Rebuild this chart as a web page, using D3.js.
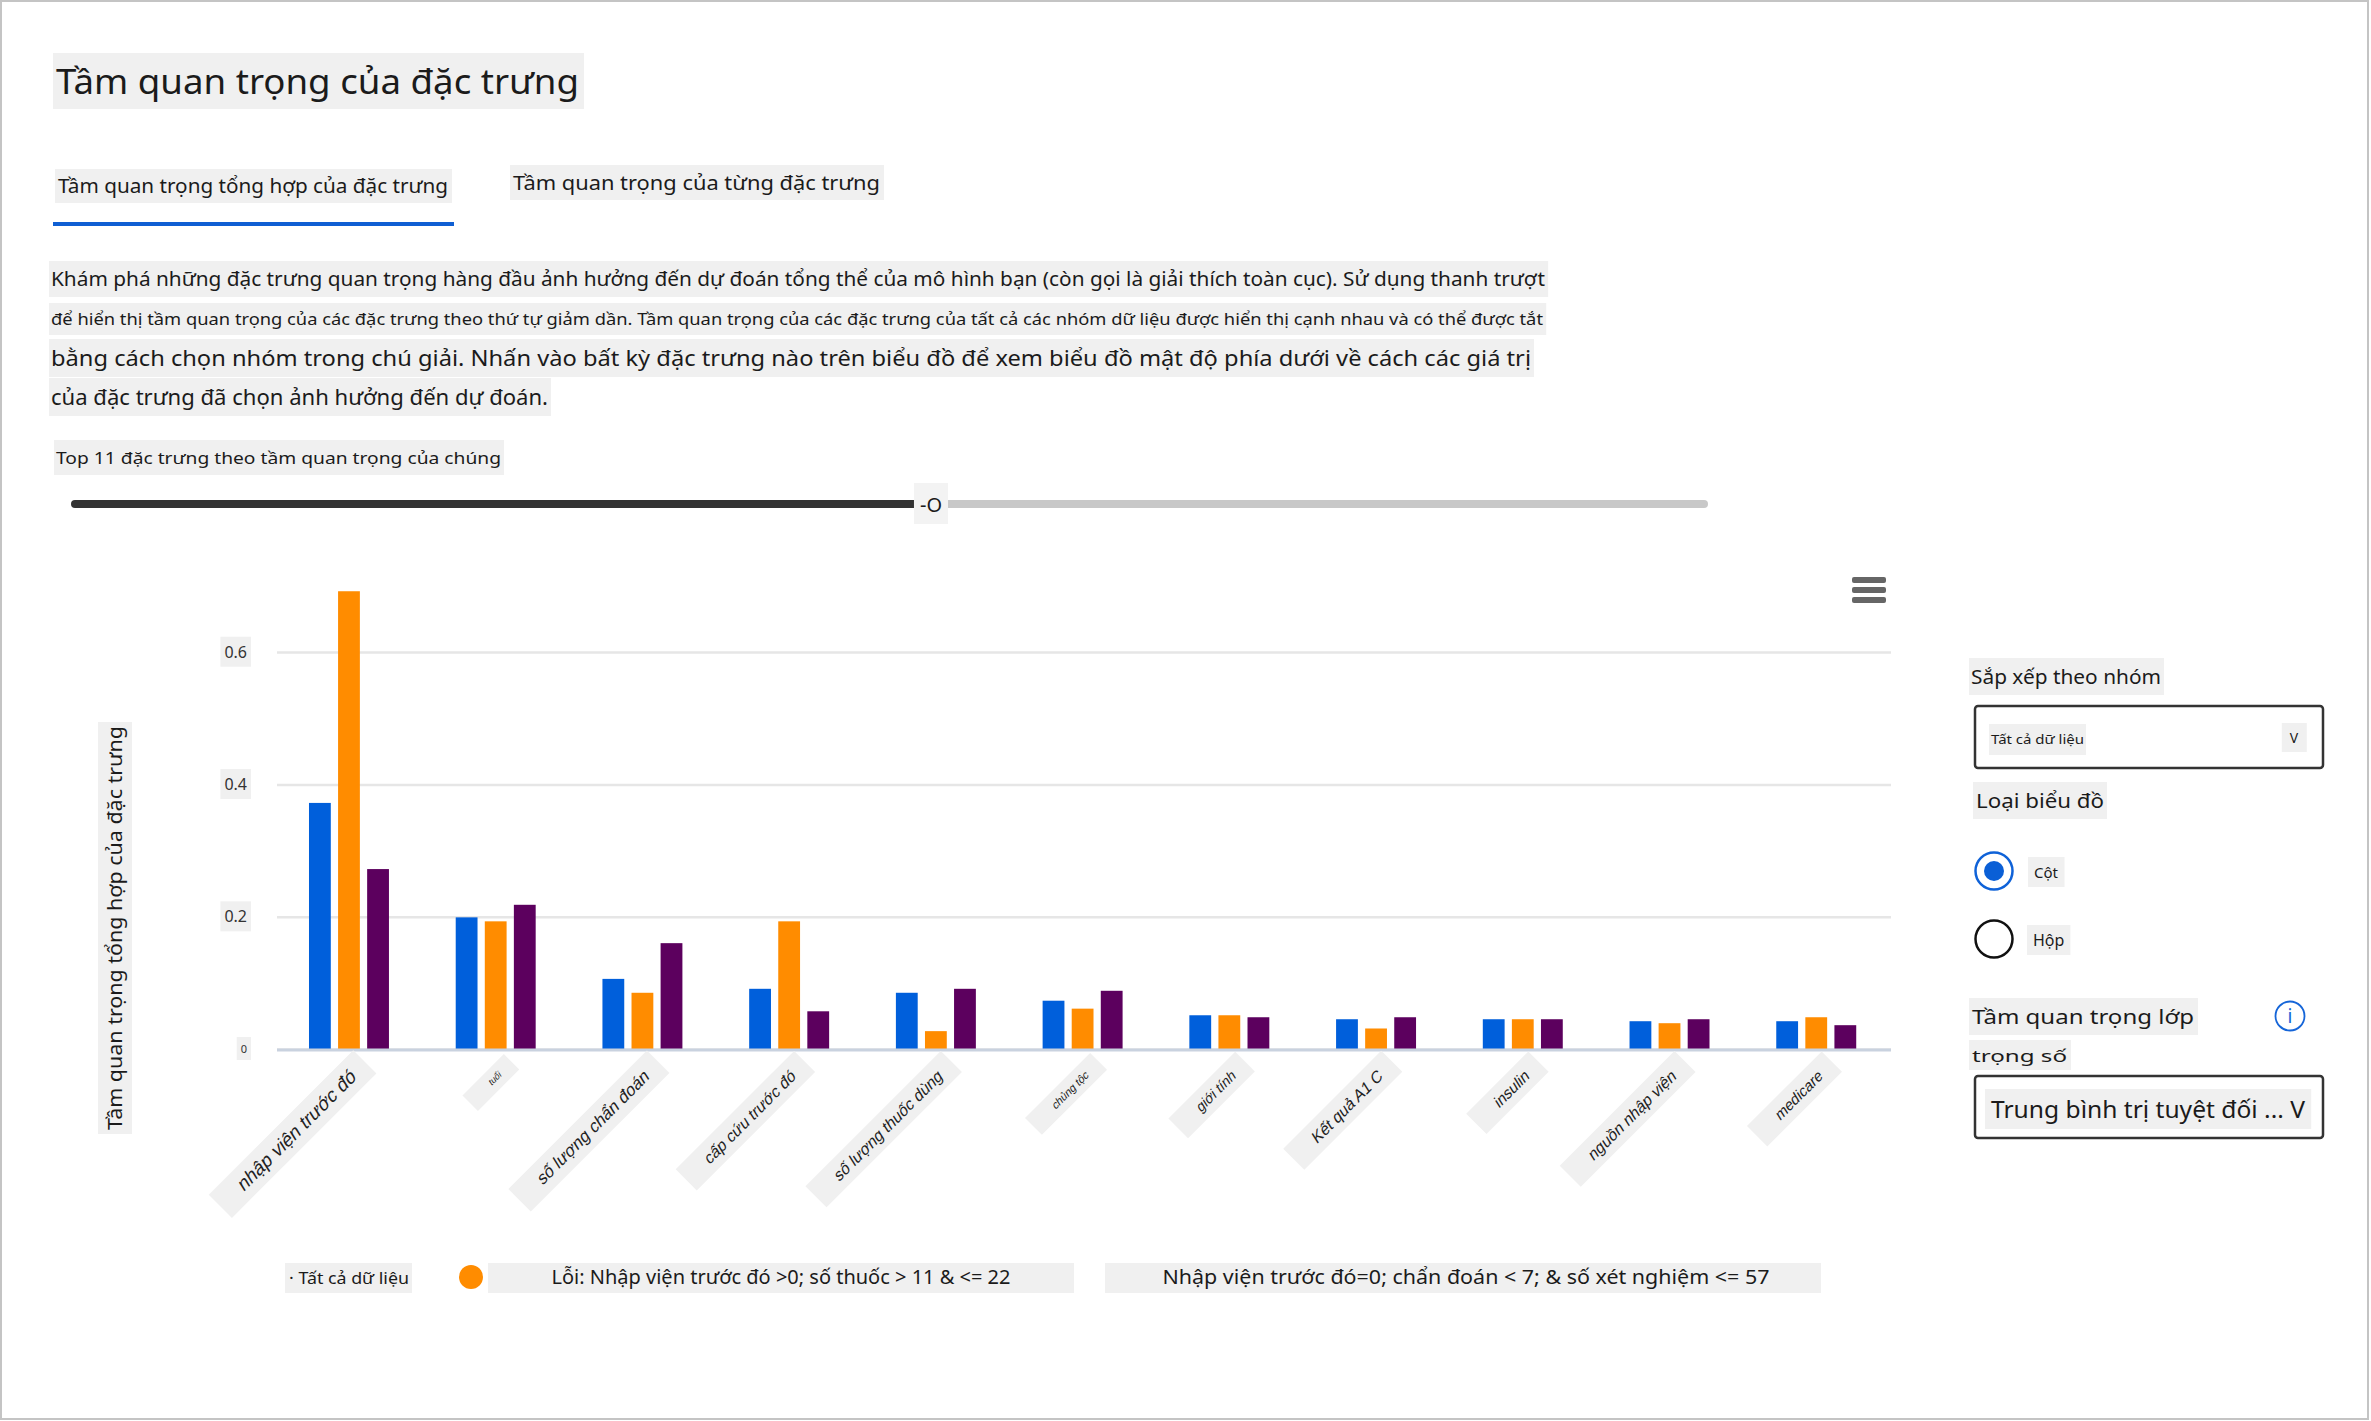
<!DOCTYPE html>
<html>
<head>
<meta charset="utf-8">
<script src="https://cdn.jsdelivr.net/npm/d3@7"></script>
<style>
  html, body { margin: 0; padding: 0; background: #fff; }
  svg { display: block; font-family: "Noto Sans", "Open Sans", sans-serif; }
</style>
</head>
<body>
<svg id="page" width="2371" height="1421"></svg>
<script>
// dữ liệu biểu đồ
var features = ["nhập viện trước đó", "tuổi", "số lượng chẩn đoán", "cấp cứu trước đó",
  "số lượng thuốc dùng", "chủng tộc", "giới tính", "Kết quả A1 C", "insulin",
  "nguồn nhập viện", "medicare"];
var cohorts = ["Tất cả dữ liệu", "Lỗi: Nhập viện trước đó >0; số thuốc > 11 & <= 22",
  "Nhập viện trước đó=0; chẩn đoán < 7; & số xét nghiệm <= 57"];
var allData   = [0.372, 0.199, 0.106, 0.091, 0.085, 0.073, 0.051, 0.045, 0.045, 0.042, 0.042];
var errorData = [0.692, 0.193, 0.085, 0.193, 0.027, 0.061, 0.051, 0.031, 0.045, 0.039, 0.048];
var otherData = [0.272, 0.218, 0.160, 0.057, 0.091, 0.088, 0.048, 0.048, 0.045, 0.045, 0.036];
var yTicks = [0, 0.2, 0.4, 0.6];

var colors = ["#005fdb", "#ff8c00", "#5c005e"];
var BOX = "#f0f0f0";
var INK = "#1b1b1b";

// cỡ chữ nhãn trục x (ảnh chụp có cỡ chữ khác nhau)
var xLabelSize = [19, 9, 17, 16, 16, 11, 14, 16, 15.5, 16, 15];

var svg = d3.select("#page");

// khung ngoài
svg.append("rect")
  .attr("x", 1).attr("y", 1).attr("width", 2367).attr("height", 1418)
  .attr("fill", "none").attr("stroke", "#c4c4c4").attr("stroke-width", 2);

// chữ có nền xám
function boxText(parent, o) {
  var g = parent.append("g")
    .attr("transform", "translate(" + o.x + "," + o.y + ")" + (o.rotate ? " rotate(" + o.rotate + ")" : ""));
  var rect = g.append("rect").attr("fill", o.box || BOX);
  var t = g.append("text")
    .attr("font-size", o.size)
    .attr("fill", o.color || INK)
    .attr("transform", o.italic ? "skewX(-13)" : null)
    .attr("text-anchor", o.anchor || "start")
    .attr("dy", o.dy || null)
    .text(o.text);
  if (o.width) t.attr("textLength", o.width).attr("lengthAdjust", "spacingAndGlyphs");
  var b = t.node().getBBox();
  var p = o.pad || [4, 4, 4, 4];
  rect.attr("x", b.x - p[0]).attr("y", b.y - p[1])
    .attr("width", b.width + p[0] + p[2]).attr("height", b.height + p[1] + p[3]);
  return g;
}

// tiêu đề + tab
boxText(svg, {text: "Tầm quan trọng của đặc trưng", x: 56, y: 94, size: 34, width: 523, pad: [3, 5, 5, 5]});
boxText(svg, {text: "Tầm quan trọng tổng hợp của đặc trưng", x: 58, y: 193, size: 19, width: 390, pad: [3, 4, 4, 4]});
boxText(svg, {text: "Tầm quan trọng của từng đặc trưng", x: 513, y: 190, size: 20, width: 367, pad: [3, 4, 4, 4]});
svg.append("rect").attr("x", 53).attr("y", 222).attr("width", 401).attr("height", 4).attr("fill", "#0f5fd3");

// đoạn mô tả
var para = [
  {text: "Khám phá những đặc trưng quan trọng hàng đầu ảnh hưởng đến dự đoán tổng thể của mô hình bạn (còn gọi là giải thích toàn cục). Sử dụng thanh trượt", y: 286, size: 19, width: 1494},
  {text: "để hiển thị tầm quan trọng của các đặc trưng theo thứ tự giảm dần. Tầm quan trọng của các đặc trưng của tất cả các nhóm dữ liệu được hiển thị cạnh nhau và có thể được tắt", y: 325, size: 16, width: 1492},
  {text: "bằng cách chọn nhóm trong chú giải. Nhấn vào bất kỳ đặc trưng nào trên biểu đồ để xem biểu đồ mật độ phía dưới về cách các giá trị", y: 366, size: 21, width: 1480},
  {text: "của đặc trưng đã chọn ảnh hưởng đến dự đoán.", y: 405, size: 21, width: 497}
];
para.forEach(function(l) {
  boxText(svg, {text: l.text, x: 51, y: l.y, size: l.size, width: l.width, pad: [2, 5, 3, 5]});
});
boxText(svg, {text: "Top 11 đặc trưng theo tầm quan trọng của chúng", x: 56, y: 464, size: 17, width: 445, pad: [2, 6, 3, 6]});

// thanh trượt
svg.append("rect").attr("x", 900).attr("y", 500).attr("width", 808).attr("height", 8).attr("rx", 4).attr("fill", "#c8c8c8");
svg.append("rect").attr("x", 71).attr("y", 500).attr("width", 847).attr("height", 8).attr("rx", 4).attr("fill", "#333");
boxText(svg, {text: "-O", x: 931, y: 512, size: 20, anchor: "middle", pad: [6, 8, 6, 6], box: "#f3f3f3"});

// biểu đồ cột
var margin = {left: 277, right: 1891, top: 560, bottom: 1049};
var x0 = d3.scaleBand().domain(features).range([margin.left, margin.right]);
var x1 = d3.scaleBand().domain(d3.range(3))
  .range([x0.bandwidth() * 0.218, x0.bandwidth() * 0.763]).paddingInner(0.25);
var y = d3.scaleLinear().domain([0, 0.6]).range([margin.bottom, margin.bottom - 0.6 * 661.5]);

var series = [allData, errorData, otherData];
var rows = features.map(function(f, i) {
  return {feature: f, values: series.map(function(s, k) { return {k: k, v: s[i]}; })};
});

var yAxis = svg.append("g")
  .attr("transform", "translate(" + margin.left + ",0)")
  .call(d3.axisLeft(y).tickValues(yTicks).tickSize(-(margin.right - margin.left)).tickPadding(30).tickFormat(d3.format("")));
yAxis.select(".domain").remove();
yAxis.selectAll(".tick line").attr("stroke", "#e6e6e6").attr("stroke-width", 2.5);
yAxis.selectAll(".tick text").each(function(d) {
  var t = d3.select(this);
  t.attr("font-size", d === 0 ? 11 : 16).attr("fill", "#333").attr("font-family", "Noto Sans");
  var b = this.getBBox();
  d3.select(this.parentNode).insert("rect", "text")
    .attr("x", b.x - 4).attr("y", b.y - 4).attr("width", b.width + 8).attr("height", b.height + 8)
    .attr("fill", BOX);
});

svg.append("g").selectAll("g")
  .data(rows)
  .join("g")
  .attr("transform", function(d) { return "translate(" + x0(d.feature) + ",0)"; })
  .selectAll("rect")
  .data(function(d) { return d.values; })
  .join("rect")
  .attr("x", function(d) { return x1(d.k); })
  .attr("width", x1.bandwidth())
  .attr("y", function(d) { return y(d.v); })
  .attr("height", function(d) { return y(0) - y(d.v); })
  .attr("fill", function(d) { return colors[d.k]; });

// đường đáy
svg.append("line")
  .attr("x1", margin.left).attr("x2", margin.right)
  .attr("y1", y(0) + 1).attr("y2", y(0) + 1)
  .attr("stroke", "#c9d2df").attr("stroke-width", 3);

// nhãn trục x
var xAxis = svg.append("g")
  .attr("transform", "translate(0," + (y(0) + 24) + ")")
  .call(d3.axisBottom(x0).tickSize(0).tickPadding(0));
xAxis.select(".domain").remove();
xAxis.selectAll(".tick text").remove();
xAxis.selectAll(".tick").each(function(d, i) {
  boxText(d3.select(this), {
    text: d, x: 3, y: 0, rotate: -45, size: xLabelSize[i], anchor: "end", dy: "0.35em",
    italic: true, color: "#222", pad: [28, 6, 16, 6]
  });
});

// tiêu đề trục y
boxText(svg, {text: "Tầm quan trọng tổng hợp của đặc trưng", x: 122, y: 928, rotate: -90,
  size: 19, width: 404, anchor: "middle", pad: [4, 4, 4, 4]});

// biểu tượng menu
[577, 587, 597].forEach(function(yy) {
  svg.append("rect").attr("x", 1852).attr("y", yy).attr("width", 34).attr("height", 6).attr("rx", 2).attr("fill", "#666");
});

// chú giải
var legendY = 1277;
var legend = [
  {cx: 297, box: [285, 412], tx: 289, anchor: "start", text: "· " + cohorts[0], size: 17, width: 120},
  {cx: 471, box: [488, 1074], tx: 781, anchor: "middle", text: cohorts[1], size: 19, width: 459},
  {cx: 1118, box: [1105, 1821], tx: 1466, anchor: "middle", text: cohorts[2], size: 20, width: 607}
];
legend.forEach(function(l, i) {
  svg.append("circle").attr("cx", l.cx).attr("cy", legendY).attr("r", 12).attr("fill", colors[i]);
  svg.append("rect").attr("x", l.box[0]).attr("y", legendY - 14).attr("width", l.box[1] - l.box[0]).attr("height", 30).attr("fill", BOX);
  svg.append("text").attr("x", l.tx).attr("y", legendY + 7).attr("font-size", l.size)
    .attr("text-anchor", l.anchor).attr("fill", INK)
    .attr("textLength", l.width).attr("lengthAdjust", "spacingAndGlyphs")
    .text(l.text);
});

// bảng điều khiển bên phải
boxText(svg, {text: "Sắp xếp theo nhóm", x: 1971, y: 684, size: 20, width: 190, pad: [2, 5, 3, 5]});
svg.append("rect").attr("x", 1975).attr("y", 706).attr("width", 348).attr("height", 62).attr("rx", 3)
  .attr("fill", "#fff").attr("stroke", "#333").attr("stroke-width", 2.5);
boxText(svg, {text: "Tất cả dữ liệu", x: 1991, y: 744, size: 12, width: 93, pad: [2, 7, 2, 7]});
boxText(svg, {text: "V", x: 2294, y: 743, size: 14, anchor: "middle", pad: [8, 5, 8, 5]});

boxText(svg, {text: "Loại biểu đồ", x: 1976, y: 808, size: 20, width: 128, pad: [3, 5, 3, 5]});
svg.append("circle").attr("cx", 1994).attr("cy", 871).attr("r", 18.5)
  .attr("fill", "#fff").attr("stroke", "#0f62d8").attr("stroke-width", 2.5);
svg.append("circle").attr("cx", 1994).attr("cy", 871).attr("r", 10).attr("fill", "#0a5fd6");
boxText(svg, {text: "Cột", x: 2034, y: 878, size: 15, pad: [6, 5, 6, 5]});
svg.append("circle").attr("cx", 1994).attr("cy", 939).attr("r", 18.5)
  .attr("fill", "#fff").attr("stroke", "#111").attr("stroke-width", 2.5);
boxText(svg, {text: "Hộp", x: 2033, y: 946, size: 16, pad: [6, 4, 6, 4]});

boxText(svg, {text: "Tầm quan trọng lớp", x: 1972, y: 1024, size: 20, width: 222, pad: [3, 5, 4, 5]});
svg.append("circle").attr("cx", 2290).attr("cy", 1016).attr("r", 14.5)
  .attr("fill", "none").attr("stroke", "#1565d8").attr("stroke-width", 1.8);
svg.append("text").attr("x", 2290).attr("y", 1023).attr("text-anchor", "middle")
  .attr("font-size", 19).attr("fill", "#1565d8").text("i");
boxText(svg, {text: "trọng số", x: 1972, y: 1062, size: 17, width: 95, pad: [3, 4, 4, 3]});
svg.append("rect").attr("x", 1975).attr("y", 1076).attr("width", 348).attr("height", 62).attr("rx", 3)
  .attr("fill", "#fff").attr("stroke", "#333").attr("stroke-width", 2.5);
boxText(svg, {text: "Trung bình trị tuyệt đối ... V", x: 1991, y: 1118, size: 23, width: 314, pad: [6, 4, 6, 4]});
</script>
</body>
</html>
